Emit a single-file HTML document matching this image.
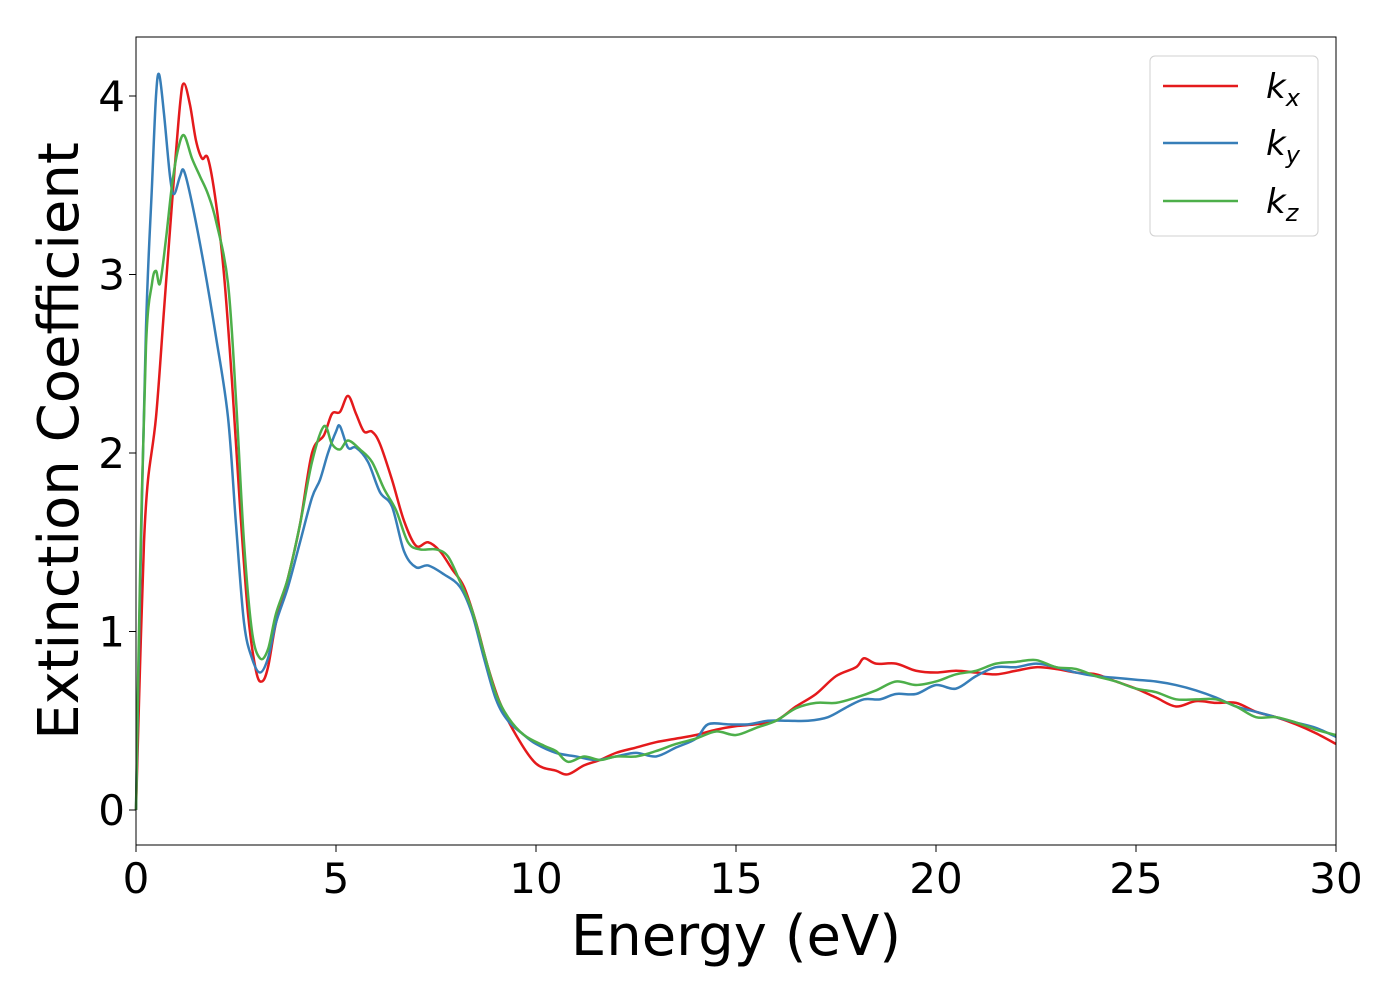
<!DOCTYPE html>
<html><head><meta charset="utf-8"><style>
body{margin:0;background:#fff}
text{font-family:"DejaVu Sans","Liberation Sans",sans-serif}
</style></head><body>
<svg id="chart" width="1400" height="1000" xmlns="http://www.w3.org/2000/svg">
<rect width="1400" height="1000" fill="#fff"/>
<g id="plot"></g>
<rect x="136" y="37" width="1200" height="808" fill="none" stroke="#000" stroke-width="1"/>
<g id="xt"></g><g id="yt"></g>
<text x="736" y="955" font-size="56" text-anchor="middle">Energy (eV)</text>
<text transform="translate(78,441) rotate(-90)" font-size="56" text-anchor="middle">Extinction Coefficient</text>
<g>
<rect x="1150" y="56" width="168" height="180" rx="5" fill="#fff" stroke="#ccc" opacity="0.9"/>
<line x1="1163" y1="86" x2="1238" y2="86" stroke="#e41a1c" stroke-width="2.5"/>
<text x="1266" y="98" font-size="34" font-style="italic">k<tspan font-size="24" dy="8">x</tspan></text>
<line x1="1163" y1="143" x2="1238" y2="143" stroke="#377eb8" stroke-width="2.5"/>
<text x="1266" y="155" font-size="34" font-style="italic">k<tspan font-size="24" dy="8">y</tspan></text>
<line x1="1163" y1="201" x2="1238" y2="201" stroke="#4daf4a" stroke-width="2.5"/>
<text x="1266" y="213" font-size="34" font-style="italic">k<tspan font-size="24" dy="8">z</tspan></text>
</g>
</svg>
<script>
const xTicks=[0,5,10,15,20,25,30];
const yTicks=[0,1,2,3,4];
const kxE=[0,0.1,0.2,0.3,0.5,0.7,0.9,1.1,1.2,1.35,1.5,1.65,1.8,2.0,2.2,2.4,2.6,2.8,3.0,3.15,3.3,3.5,3.8,4.1,4.4,4.7,4.9,5.1,5.3,5.5,5.7,5.9,6.1,6.4,6.7,7.0,7.3,7.6,7.9,8.2,8.5,8.8,9.1,9.5,10,10.5,10.8,11.2,11.6,12,12.5,13,13.5,14,14.5,15,15.5,16,16.5,17,17.5,18,18.2,18.5,19,19.5,20,20.5,21,21.5,22,22.5,23,23.5,24,24.5,25,25.5,26,26.5,27,27.5,28,28.5,29,29.5,30];
const kxV=[0,0.8,1.5,1.85,2.2,2.8,3.4,3.95,4.07,3.95,3.75,3.65,3.65,3.4,3.0,2.4,1.7,1.1,0.78,0.72,0.8,1.05,1.3,1.6,2.0,2.1,2.22,2.23,2.32,2.22,2.12,2.12,2.05,1.85,1.62,1.48,1.5,1.45,1.35,1.25,1.05,0.8,0.6,0.42,0.26,0.22,0.2,0.25,0.28,0.32,0.35,0.38,0.4,0.42,0.45,0.47,0.48,0.5,0.58,0.65,0.75,0.8,0.85,0.82,0.82,0.78,0.77,0.78,0.77,0.76,0.78,0.8,0.79,0.77,0.76,0.72,0.68,0.63,0.58,0.61,0.6,0.6,0.55,0.52,0.48,0.43,0.37];
const kyE=[0,0.1,0.25,0.4,0.5,0.58,0.7,0.85,0.95,1.1,1.2,1.4,1.7,2.0,2.3,2.5,2.7,2.9,3.1,3.3,3.5,3.8,4.1,4.4,4.6,4.8,5.0,5.1,5.3,5.5,5.8,6.1,6.4,6.7,7.0,7.3,7.7,8.1,8.4,8.7,9.0,9.3,9.7,10,10.5,11,11.5,12,12.5,13,13.5,14,14.3,14.8,15.3,15.8,16.3,16.8,17.3,17.8,18.2,18.6,19,19.5,20,20.5,21,21.5,22,22.5,23,23.5,24,24.5,25,25.5,26,26.5,27,27.5,28,28.5,29,29.5,30];
const kyV=[0,1.2,2.7,3.5,4.0,4.12,3.9,3.55,3.45,3.55,3.58,3.4,3.05,2.65,2.2,1.6,1.05,0.85,0.77,0.85,1.05,1.25,1.5,1.75,1.85,2.0,2.12,2.15,2.03,2.03,1.95,1.78,1.7,1.45,1.36,1.37,1.32,1.25,1.1,0.85,0.62,0.5,0.42,0.37,0.32,0.3,0.28,0.3,0.32,0.3,0.35,0.4,0.48,0.48,0.48,0.5,0.5,0.5,0.52,0.58,0.62,0.62,0.65,0.65,0.7,0.68,0.75,0.8,0.8,0.82,0.8,0.77,0.75,0.74,0.73,0.72,0.7,0.67,0.63,0.58,0.55,0.52,0.49,0.46,0.41];
const kzE=[0,0.1,0.25,0.4,0.5,0.6,0.75,0.9,1.05,1.2,1.4,1.6,1.8,2.0,2.3,2.5,2.7,2.9,3.1,3.3,3.5,3.8,4.1,4.4,4.7,4.9,5.1,5.3,5.6,5.9,6.2,6.5,6.8,7.1,7.5,7.8,8.1,8.4,8.7,9.0,9.3,9.7,10.2,10.5,10.8,11.2,11.6,12,12.5,13,13.5,14,14.5,15,15.5,16,16.5,17,17.5,18,18.5,19,19.5,20,20.5,21,21.5,22,22.5,23,23.5,24,24.5,25,25.5,26,26.5,27,27.5,28,28.5,29,29.5,30];
const kzV=[0,1.3,2.6,2.95,3.02,2.95,3.2,3.5,3.7,3.78,3.65,3.55,3.45,3.3,2.95,2.3,1.5,1.0,0.85,0.9,1.1,1.3,1.6,1.95,2.15,2.05,2.02,2.07,2.02,1.95,1.8,1.68,1.5,1.46,1.46,1.42,1.28,1.12,0.88,0.65,0.52,0.42,0.36,0.33,0.27,0.3,0.28,0.3,0.3,0.33,0.37,0.4,0.44,0.42,0.46,0.5,0.57,0.6,0.6,0.63,0.67,0.72,0.7,0.72,0.76,0.78,0.82,0.83,0.84,0.8,0.79,0.75,0.72,0.68,0.66,0.62,0.62,0.62,0.58,0.52,0.52,0.49,0.45,0.42];
const X=e=>136+e*40, Y=v=>810-v*178.5;
const NS="http://www.w3.org/2000/svg";
function path(E,V){let d=`M${X(E[0])},${Y(V[0])}`;
 for(let i=0;i<E.length-1;i++){const p0=i?i-1:i,p3=i+2<E.length?i+2:i+1;
  const c1x=X(E[i])+(X(E[i+1])-X(E[p0]))/6,c1y=Y(V[i])+(Y(V[i+1])-Y(V[p0]))/6;
  const c2x=X(E[i+1])-(X(E[p3])-X(E[i]))/6,c2y=Y(V[i+1])-(Y(V[p3])-Y(V[i]))/6;
  d+=` C${c1x},${c1y} ${c2x},${c2y} ${X(E[i+1])},${Y(V[i+1])}`;}
 return d;}
const plot=document.getElementById('plot');
[[kxE,kxV,'#e41a1c','series-kx'],[kyE,kyV,'#377eb8','series-ky'],[kzE,kzV,'#4daf4a','series-kz']].forEach(s=>{
 const p=document.createElementNS(NS,'path');p.setAttribute('d',path(s[0],s[1]));
 p.setAttribute('fill','none');p.setAttribute('stroke',s[2]);p.setAttribute('stroke-width','2.5');
 
 
 plot.appendChild(p);});
const xt=document.getElementById('xt');
xTicks.forEach(t=>{const l=document.createElementNS(NS,'line');l.setAttribute('x1',X(t));l.setAttribute('x2',X(t));l.setAttribute('y1',845);l.setAttribute('y2',852);l.setAttribute('stroke','#000');xt.appendChild(l);
 const tx=document.createElementNS(NS,'text');tx.setAttribute('x',X(t));tx.setAttribute('y',893);tx.setAttribute('font-size','42');tx.setAttribute('text-anchor','middle');tx.textContent=t;
 
 
 xt.appendChild(tx);});
const yt=document.getElementById('yt');
yTicks.forEach(t=>{const l=document.createElementNS(NS,'line');l.setAttribute('x1',129);l.setAttribute('x2',136);l.setAttribute('y1',Y(t));l.setAttribute('y2',Y(t));l.setAttribute('stroke','#000');yt.appendChild(l);
 const tx=document.createElementNS(NS,'text');tx.setAttribute('x',125);tx.setAttribute('y',Y(t)+15);tx.setAttribute('font-size','42');tx.setAttribute('text-anchor','end');tx.textContent=t;
 
 
 yt.appendChild(tx);});
</script>
</body></html>
